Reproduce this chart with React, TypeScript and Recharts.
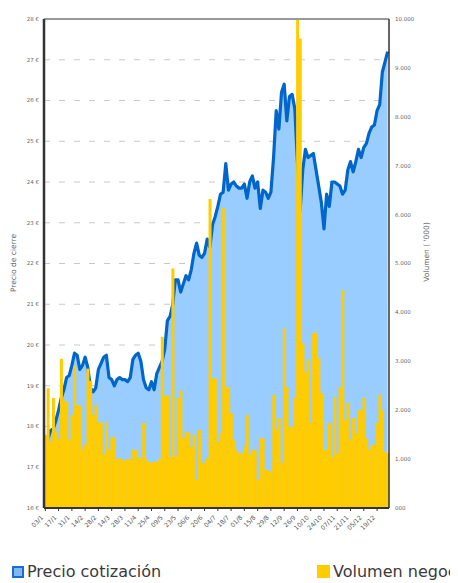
import {
  Area,
  Bar,
  CartesianGrid,
  ComposedChart,
  ReferenceLine,
  XAxis,
  YAxis,
} from "recharts";

// two-week tick labels (every 5th point, one point ≈ 2 trading days)
const DATE_LABELS = [
  "03/1", "17/1", "31/1", "14/2", "28/2", "14/3", "28/3", "11/4", "25/4",
  "09/5", "23/5", "06/6", "20/6", "04/7", "18/7", "01/8", "15/8", "29/8",
  "12/9", "26/9", "10/10", "24/10", "07/11", "21/11", "05/12", "19/12",
];

// closing price, €
const PRICE = [
  17.4, 17.7, 17.9, 17.95, 18.15, 18.4, 18.7, 18.9, 19.2, 19.25,
  19.5, 19.8, 19.75, 19.4, 19.5, 19.7, 19.45, 18.95, 18.85, 18.95,
  19.4, 19.55, 19.7, 19.75, 19.2, 19.15, 19.0, 19.15, 19.2, 19.15,
  19.15, 19.1, 19.2, 19.65, 19.75, 19.8, 19.6, 19.15, 18.95, 18.9,
  19.1, 18.9, 19.3, 19.45, 19.6, 19.9, 20.6, 20.7, 21.0, 21.6,
  21.6, 21.3, 21.5, 21.7, 21.6, 21.85, 22.25, 22.5, 22.2, 22.15,
  22.25, 22.6, 22.4, 22.95, 23.15, 23.4, 23.7, 23.75, 24.45, 23.8,
  23.95, 24.0, 23.9, 23.85, 23.85, 23.95, 23.6, 24.0, 24.15, 23.85,
  24.0, 23.35, 23.8, 23.75, 23.6, 23.75, 24.6, 25.75, 25.3, 26.2,
  26.4, 25.5, 26.1, 26.15, 25.8, 24.5, 23.3, 24.3, 24.8, 24.6,
  24.65, 24.7, 24.3, 23.9, 23.5, 22.85, 23.7, 23.4, 24.0, 24.0,
  23.95, 23.9, 23.7, 23.8, 24.3, 24.5, 24.25, 24.5, 24.8, 24.6,
  24.85, 24.95, 25.2, 25.35, 25.4, 25.75, 25.9, 26.7, 26.95, 27.2,
];

// traded volume, thousands of shares
const VOLUME = [
  1500, 2450, 1350, 2250, 1550, 1400, 3050, 2200, 2170, 1400,
  1900, 2900, 2100, 2100, 1200, 1300, 2850, 2600, 1900, 2100,
  1750, 1750, 1100, 1760, 1200, 1450, 1450, 1000, 1020, 980,
  980, 1000, 1000, 1190, 1190, 1020, 1020, 1740, 1000, 940,
  940, 940, 940, 1000, 3500, 2300, 2300, 1040, 4900, 1050,
  2250, 2400, 1430, 1550, 1550, 1250, 1500, 570, 1600, 920,
  920, 1020, 6320, 2650, 2650, 1350, 1530, 6130, 2470, 2470,
  1940, 1390, 1190, 1120, 1120, 1250, 1900, 1100, 1190, 1190,
  570, 1430, 1430, 780, 780, 740, 2310, 1600, 1840, 920,
  3680, 2470, 1660, 1660, 2250, 10000, 9600, 3370, 2780, 3030,
  1740, 3580, 3580, 3070, 2350, 1190, 1190, 1740, 1040, 2270,
  1120, 2470, 4460, 1800, 2150, 1390, 1840, 1530, 2000, 2000,
  2250, 1430, 1190, 1290, 1290, 1740, 2310, 2000, 1150, 1120,
];

const PRICE_TICKS = [16, 17, 18, 19, 20, 21, 22, 23, 24, 25, 26, 27, 28];
const VOLUME_TICKS = [0, 1000, 2000, 3000, 4000, 5000, 6000, 7000, 8000, 9000, 10000];

const data = PRICE.map((p, i) => ({ i, price: p, volume: VOLUME[i] }));

const FONT = "'DejaVu Sans', sans-serif";
const tickStyle = { fill: "#666", fontSize: 5.5, fontFamily: FONT };

const fmtVolume = (v: number) =>
  v === 0 ? "000" : v.toLocaleString("de-DE", { maximumFractionDigits: 0 });

function DateTick({ x, y, payload }: any) {
  const label = DATE_LABELS[Math.round(payload.value / 5)];
  return (
    <text
      x={0}
      y={0}
      transform={`translate(${x - 1.5},${y + 5}) rotate(-45)`}
      textAnchor="end"
      fill="#555"
      fontSize={6.2}
      fontFamily={FONT}
    >
      {label}
    </text>
  );
}

export default function App() {
  return (
    <div style={{ position: "relative", width: 450, height: 575 }}>
      <ComposedChart
        width={450}
        height={530}
        data={data}
        margin={{ top: 11, right: 19, left: 6, bottom: 2 }}
        barCategoryGap={0}
        barGap={0}
      >
        <CartesianGrid
          yAxisId="left"
          vertical={false}
          stroke="#c8c8c8"
          strokeDasharray="6 9"
        />
        <XAxis
          dataKey="i"
          interval={4}
          tick={<DateTick />}
          tickSize={3}
          tickMargin={2}
          stroke="#333"
          axisLine={{ stroke: "#333", strokeWidth: 2 }}
          tickLine={{ stroke: "#333" }}
          height={28}
        />
        <YAxis
          yAxisId="left"
          domain={[16, 28]}
          ticks={PRICE_TICKS}
          tickFormatter={(v) => `${v} €`}
          tick={tickStyle}
          tickLine={false}
          tickSize={0}
          tickMargin={5}
          axisLine={{ stroke: "#333", strokeWidth: 2.5 }}
          width={30}
          allowDataOverflow
        />
        <YAxis
          yAxisId="right"
          orientation="right"
          domain={[0, 10000]}
          ticks={VOLUME_TICKS}
          tickFormatter={fmtVolume}
          tick={{ ...tickStyle, textAnchor: "start" }}
          tickLine={false}
          tickSize={0}
          tickMargin={6}
          axisLine={{ stroke: "#333", strokeWidth: 1.5 }}
          width={50}
          allowDataOverflow
        />
        <Area
          yAxisId="left"
          type="linear"
          dataKey="price"
          stroke="#0066cc"
          strokeWidth={3.2}
          strokeLinejoin="round"
          fill="#99ccff"
          fillOpacity={1}
          baseValue="dataMin"
          dot={false}
          activeDot={false}
          isAnimationActive={false}
        />
        <Bar
          yAxisId="right"
          dataKey="volume"
          fill="#ffcc00"
          isAnimationActive={false}
        />
        <ReferenceLine yAxisId="left" y={28} stroke="#999" strokeWidth={2} />
      </ComposedChart>

      <svg
        width={450}
        height={530}
        style={{ position: "absolute", left: 0, top: 0, pointerEvents: "none" }}
      >
        <text
          transform="translate(8,255) rotate(-90)"
          textAnchor="middle"
          fill="#666"
          fontSize={7.5}
          fontFamily={FONT}
        >
          Precio de cierre
        </text>
        <text
          transform="translate(421,244) rotate(-90)"
          textAnchor="middle"
          fill="#666"
          fontSize={7.5}
          fontFamily={FONT}
        >
          Volumen ( '000)
        </text>
      </svg>

      <div
        style={{
          position: "absolute",
          top: 557,
          left: 0,
          width: 458,
          fontFamily: FONT,
          fontSize: 16,
          color: "#3a3a3a",
          whiteSpace: "nowrap",
        }}
      >
        <span style={{ position: "absolute", left: 4, top: 1, width: 8, height: 8, background: "#7fb8ee", border: "2.5px solid #1a6ad8" }} />
        <span style={{ position: "absolute", left: 19, top: -3 }}>Precio cotización</span>
        <span style={{ position: "absolute", left: 309, top: 0, width: 13, height: 13, background: "#ffcc00" }} />
        <span style={{ position: "absolute", left: 325, top: -3 }}>Volumen negoc</span>
      </div>
    </div>
  );
}
